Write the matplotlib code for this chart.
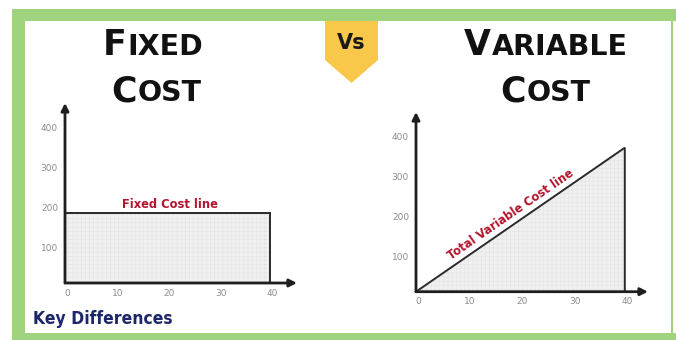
import math
import matplotlib
matplotlib.use("Agg")
import matplotlib.pyplot as plt
import matplotlib.transforms as mtransforms
from matplotlib.patches import Rectangle, Polygon

# ---- data -----------------------------------------------------------------
output_units = [0, 40]           # quantity of output
fixed_cost = [175, 175]          # total fixed cost stays flat
variable_cost = [0, 360]         # total variable cost grows with output
x_ticks = [0, 10, 20, 30, 40]
y_ticks = [100, 200, 300, 400]

fixed_label = "Fixed Cost line"
variable_label = "Total Variable Cost line"
left_title = ["FIXED", "COST"]
right_title = ["VARIABLE", "COST"]
badge_text = "Vs"
footer_text = "Key Differences"

# ---- styling ----------------------------------------------------------------
W, H = 676, 340
DPI = 100
GREEN = "#9fd37d"
BADGE = "#f9c84a"
INK = "#1e1e1e"
TICK_GREY = "#8c8c8c"
RED = "#b3152b"
NAVY = "#1c2668"
FILL = "#f0f0f0"
HATCH = "#e2e2e2"

plt.rcParams["hatch.linewidth"] = 0.35
plt.rcParams["font.family"] = ["DejaVu Sans"]

fig = plt.figure(figsize=(W / DPI, H / DPI), dpi=DPI)
fig.patch.set_facecolor("white")


def fx(x):
    return x / W


def fy(y):
    return 1 - y / H


def px_offset(dx, dy):
    """Offset in screen pixels (dy positive = downwards)."""
    return mtransforms.ScaledTranslation(dx / DPI, -dy / DPI, fig.dpi_scale_trans)


# ---- green frame ------------------------------------------------------------
frame = [
    (12, 9, W - 12, 12),      # top band
    (12, 9, 13, H - 9),       # left band
    (12, 333, W - 12, 7),     # bottom band
    (671, 9, 2, H - 9),       # thin right edge
]
for x0, y0, w, h in frame:
    fig.patches.append(Rectangle((fx(x0), fy(y0 + h)), w / W, h / H,
                                 transform=fig.transFigure, color=GREEN,
                                 lw=0, zorder=0))

# ---- "Vs" badge -------------------------------------------------------------
badge_px = [(325, 21), (378, 21), (378, 60), (351.5, 83), (325, 60)]
fig.patches.append(Polygon([(fx(x), fy(y)) for x, y in badge_px],
                           closed=True, transform=fig.transFigure,
                           color=BADGE, lw=0, zorder=1))
fig.text(fx(351.5), fy(49), badge_text, ha="center", va="baseline",
         fontsize=15, fontweight="bold", color="#1a1a1a")


# ---- small-caps style titles -------------------------------------------------
renderer = fig.canvas.get_renderer()


def small_caps(word, cx, baseline, big=25, small=20.5):
    head = fig.text(0, fy(baseline), word[0], fontsize=big, fontweight="bold",
                    color="#111111", va="baseline", ha="left")
    tail = fig.text(0, fy(baseline), word[1:], fontsize=small, fontweight="bold",
                    color="#111111", va="baseline", ha="left")
    w_head = head.get_window_extent(renderer).width
    w_tail = tail.get_window_extent(renderer).width
    x0 = cx - (w_head + w_tail) / 2
    head.set_x(fx(x0))
    tail.set_x(fx(x0 + w_head + 1))


small_caps(left_title[0], 152, 55)
small_caps(left_title[1], 156, 101)
small_caps(right_title[0], 545, 55)
small_caps(right_title[1], 545, 101)


# ---- chart panels -----------------------------------------------------------
def make_panel(left, right, top, bottom, px_per_unit, px_per_hundred):
    ax = fig.add_axes([fx(left), fy(bottom), (right - left) / W, (bottom - top) / H])
    ax.set_xlim(0, (right - left) / px_per_unit)
    ax.set_ylim(0, (bottom - top) / px_per_hundred * 100)
    ax.axis("off")
    ax.patch.set_alpha(0)
    arrow = dict(arrowstyle="-|>", lw=2.0, color=INK, mutation_scale=11,
                 shrinkA=0, shrinkB=0)
    ax.annotate("", xy=(1, 0), xycoords="axes fraction", xytext=(0, 0),
                arrowprops=arrow, zorder=5)
    ax.annotate("", xy=(0, 1), xycoords="axes fraction", xytext=(0, 0),
                arrowprops=arrow, zorder=5)
    for xv in x_ticks:
        ax.text(xv, 0, str(xv), transform=ax.transData + px_offset(2, 10),
                ha="center", va="center", fontsize=6.5, color=TICK_GREY)
    for yv in y_ticks:
        ax.text(0, yv, str(yv), transform=ax.transData + px_offset(-7, 5.5),
                ha="right", va="center", fontsize=6.5, color=TICK_GREY)
    return ax


ax_fixed = make_panel(65, 297, 103, 283, 5.12, 40)
ax_var = make_panel(416, 648, 112, 291.7, 5.22, 40)

# fixed cost: flat line with shaded area beneath
ax_fixed.fill_between(output_units, fixed_cost, color=FILL, hatch="++++",
                      edgecolor=HATCH, linewidth=0, zorder=1)
ax_fixed.plot([output_units[0], output_units[1], output_units[1]],
              [fixed_cost[0], fixed_cost[1], 0], color="#2a2a2a", lw=1.4,
              zorder=3, solid_joinstyle="miter")
ax_fixed.annotate(fixed_label, xy=(sum(output_units) / 2, fixed_cost[0]),
                  xytext=(3, 9), textcoords="offset pixels", ha="center",
                  va="center", fontsize=8.3, fontweight="bold", color=RED)

# variable cost: rising line with shaded triangle beneath
ax_var.fill_between(output_units, variable_cost, color=FILL, hatch="++++",
                    edgecolor=HATCH, linewidth=0, zorder=1)
ax_var.plot([output_units[0], output_units[1], output_units[1]],
            [variable_cost[0], variable_cost[1], 0], color="#2a2a2a", lw=1.4,
            zorder=3, solid_joinstyle="miter")

p0 = ax_var.transData.transform((output_units[0], variable_cost[0]))
p1 = ax_var.transData.transform((output_units[1], variable_cost[1]))
angle = math.degrees(math.atan2(p1[1] - p0[1], p1[0] - p0[0]))
t = 0.48
x_mid = output_units[0] + t * (output_units[1] - output_units[0])
y_mid = variable_cost[0] + t * (variable_cost[1] - variable_cost[0])
nrm = math.radians(angle)
ax_var.annotate(variable_label, xy=(x_mid, y_mid),
                xytext=(-10 * math.sin(nrm), 10 * math.cos(nrm)),
                textcoords="offset pixels", ha="center", va="center",
                rotation=angle, rotation_mode="anchor", fontsize=8.3,
                fontweight="bold", color=RED)

# ---- footer -----------------------------------------------------------------
fig.text(fx(33), fy(324), footer_text, ha="left", va="baseline", fontsize=12.5,
         fontweight="bold", fontstretch="condensed", color=NAVY,
         family=["DejaVu Sans"])

fig.savefig("out.png", dpi=DPI, facecolor="white")
